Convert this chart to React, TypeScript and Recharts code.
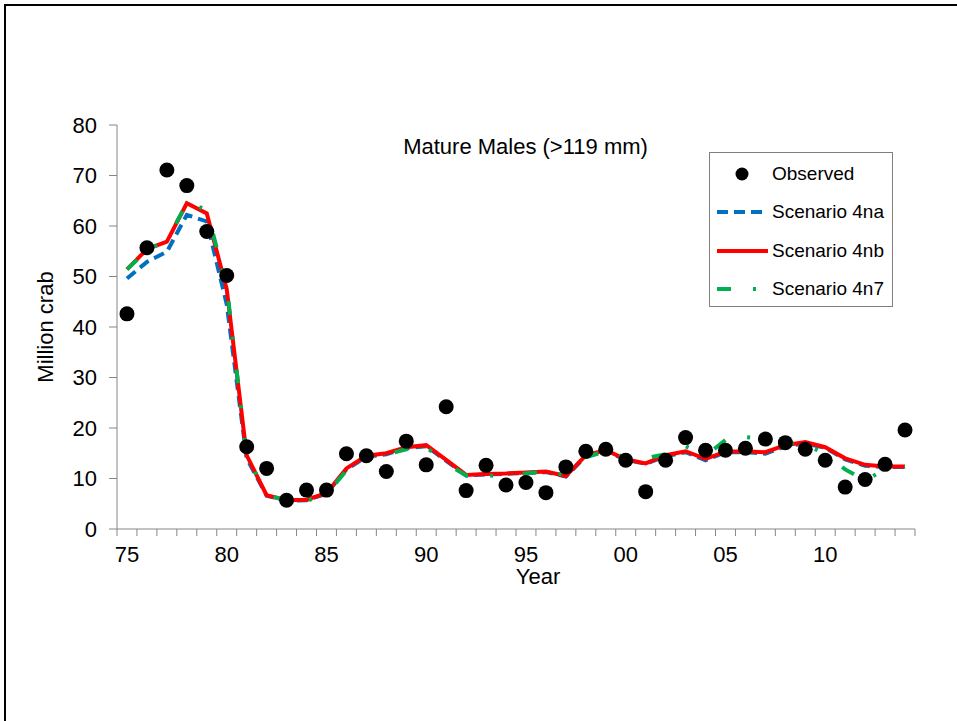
import React from 'react';
import { ComposedChart, Line, XAxis, YAxis } from 'recharts';

// values (million crab)
const years = [
  1975, 1976, 1977, 1978, 1979, 1980, 1981, 1982, 1983, 1984,
  1985, 1986, 1987, 1988, 1989, 1990, 1991, 1992, 1993, 1994,
  1995, 1996, 1997, 1998, 1999, 2000, 2001, 2002, 2003, 2004,
  2005, 2006, 2007, 2008, 2009, 2010, 2011, 2012, 2013, 2014,
];
const observed = [
  42.6, 55.7, 71.1, 68.0, 58.9, 50.2, 16.3, 12.0, 5.7, 7.7,
  7.7, 14.9, 14.5, 11.4, 17.4, 12.7, 24.2, 7.6, 12.6, 8.7,
  9.2, 7.2, 12.3, 15.4, 15.8, 13.6, 7.4, 13.6, 18.1, 15.6,
  15.6, 16.0, 17.8, 17.1, 15.8, 13.6, 8.3, 9.8, 12.8, 19.6,
];
const scenario4na = [
  49.6, 52.9, 54.9, 62.2, 60.9, 44.5, 14.0, 6.6, 5.6, 5.7,
  7.0, 11.8, 14.3, 14.8, 16.0, 16.4, 13.5, 10.6, 10.8, 10.9,
  11.1, 11.3, 10.4, 14.4, 15.4, 13.7, 12.9, 14.4, 15.2, 13.6,
  15.2, 15.2, 14.9, 16.4, 16.9, 16.1, 13.8, 12.5, 12.3, 12.3,
];
const scenario4nb = [
  51.4, 55.4, 56.9, 64.5, 62.5, 47.5, 14.6, 6.7, 5.7, 5.8,
  7.1, 12.0, 14.5, 15.0, 16.2, 16.6, 13.7, 10.7, 10.9, 11.0,
  11.2, 11.4, 10.5, 14.6, 15.6, 13.8, 13.0, 14.6, 15.4, 13.9,
  15.3, 15.4, 15.2, 16.6, 17.2, 16.2, 14.0, 12.7, 12.4, 12.4,
];
const scenario4n7 = [
  51.4, 55.2, 57.2, 64.5, 63.3, 48.0, 14.5, 6.8, 5.6, 5.6,
  6.8, 11.6, 14.0, 14.7, 15.8, 16.2, 13.0, 10.6, 10.6, 10.5,
  11.0, 11.4, 10.7, 14.2, 15.4, 14.2, 14.0, 14.8, 16.4, 14.5,
  17.6, 18.2, 17.8, 17.2, 16.6, 15.0, 11.8, 9.6, 11.8, 12.3,
];
const yTicks = [0, 10, 20, 30, 40, 50, 60, 70, 80];

const data = years.map((year, i) => ({
  year,
  observed: observed[i],
  s4na: scenario4na[i],
  s4nb: scenario4nb[i],
  s4n7: scenario4n7[i],
}));

// tick marks sit between the years, labels every 5 years in the middle
const xTicks = [years[0] - 0.5, ...years.map((y) => y + 0.5)];

const W = 957;
const H = 721;
const M = { top: 125, right: 42, bottom: 132, left: 0 };
const Y_AXIS_W = 117;
const PLOT_W = W - M.left - M.right - Y_AXIS_W;
const HALF_BAND = PLOT_W / years.length / 2;

const FONT = '"Liberation Sans", Arial, sans-serif';
const AXIS = '#868686';
const BLUE = '#0070C0';
const RED = '#FF0000';
const GREEN = '#00B050';

const YearTick = (props: any) => {
  const { x, y, payload } = props;
  const year = payload.value + 0.5;
  if (year % 5 !== 0 || year > years[years.length - 1]) return null;
  return (
    <text x={x + HALF_BAND} y={y} dy="0.71em" textAnchor="middle" fontSize={22} fill="#000" fontFamily={FONT}>
      {String(year % 100).padStart(2, '0')}
    </text>
  );
};

const legendItems = [
  { label: 'Observed', kind: 'dot', color: '#000', dash: undefined },
  { label: 'Scenario 4na', kind: 'line', color: BLUE, dash: '11 6' },
  { label: 'Scenario 4nb', kind: 'line', color: RED, dash: undefined },
  { label: 'Scenario 4n7', kind: 'line', color: GREEN, dash: '14 22 3 30' },
];

const LegendBox = () => (
  <div
    style={{
      position: 'absolute',
      left: 709,
      top: 152,
      width: 184,
      height: 155,
      border: '1px solid #7f7f7f',
      background: '#fff',
      boxSizing: 'border-box',
      paddingTop: 2,
    }}
  >
    {legendItems.map((it) => (
      <div key={it.label} style={{ display: 'flex', alignItems: 'center', height: 38.3 }}>
        <svg width={62} height={20} style={{ marginLeft: 6 }}>
          {it.kind === 'dot' ? (
            <circle cx={26} cy={10} r={6.5} fill="#000" />
          ) : (
            <line x1={1} y1={10} x2={52} y2={10} stroke={it.color} strokeWidth={4} strokeDasharray={it.dash} />
          )}
        </svg>
        <span style={{ fontSize: 19, fontFamily: FONT, color: '#000', marginLeft: -6 }}>{it.label}</span>
      </div>
    ))}
  </div>
);

const App = () => {
  return (
    <div style={{ position: 'absolute', left: 0, top: 0, width: W, height: H, background: '#fff', fontFamily: FONT }}>
      <div
        style={{
          position: 'absolute',
          left: 4,
          top: 4,
          width: W,
          height: H,
          borderTop: '2px solid #000',
          borderLeft: '2px solid #000',
        }}
      />
      <ComposedChart width={W} height={H} data={data} margin={M}>
        <XAxis
          dataKey="year"
          type="number"
          domain={[xTicks[0], xTicks[xTicks.length - 1]]}
          ticks={xTicks}
          interval={0}
          height={60}
          stroke={AXIS}
          tickSize={7}
          tickMargin={10}
          tick={<YearTick />}
        />
        <YAxis
          domain={[0, 80]}
          ticks={yTicks}
          width={Y_AXIS_W}
          stroke={AXIS}
          tickSize={8}
          tickMargin={12}
          tick={{ fontSize: 22, fill: '#000', fontFamily: FONT }}
        />
        <Line type="linear" dataKey="s4na" stroke={BLUE} strokeWidth={4} strokeDasharray="11 6" dot={false} isAnimationActive={false} />
        <Line type="linear" dataKey="s4nb" stroke={RED} strokeWidth={4} dot={false} isAnimationActive={false} />
        <Line type="linear" dataKey="s4n7" stroke={GREEN} strokeWidth={4} strokeDasharray="14 22 3 30" dot={false} isAnimationActive={false} />
        <Line
          type="linear"
          dataKey="observed"
          stroke="none"
          dot={{ r: 7.5, fill: '#000', stroke: 'none' }}
          activeDot={false}
          isAnimationActive={false}
        />
      </ComposedChart>
      <LegendBox />
      <div style={{ position: 'absolute', left: 0, width: 1051, top: 134, textAlign: 'center', fontSize: 22, color: '#000' }}>
        Mature Males (&gt;119 mm)
      </div>
      <div
        style={{
          position: 'absolute',
          left: 0,
          width: 1076,
          top: 567,
          lineHeight: '20px',
          textAlign: 'center',
          fontSize: 22,
          color: '#000',
        }}
      >
        Year
      </div>
      <div
        style={{
          position: 'absolute',
          left: 46,
          top: 327,
          transform: 'translate(-50%, -50%) rotate(-90deg)',
          whiteSpace: 'nowrap',
          fontSize: 22,
          color: '#000',
        }}
      >
        Million crab
      </div>
    </div>
  );
};

export default App;
